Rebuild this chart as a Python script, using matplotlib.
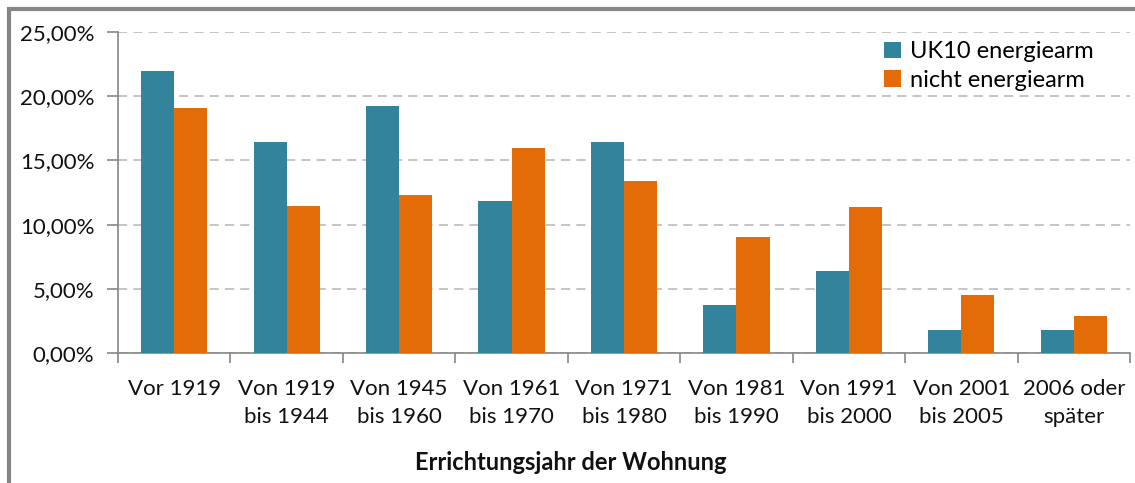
import matplotlib
matplotlib.use("Agg")
import matplotlib.pyplot as plt
from matplotlib.patches import Rectangle
import numpy as np

categories = ["Vor 1919", "Von 1919\nbis 1944", "Von 1945\nbis 1960", "Von 1961\nbis 1970",
              "Von 1971\nbis 1980", "Von 1981\nbis 1990", "Von 1991\nbis 2000",
              "Von 2001\nbis 2005", "2006 oder\nspäter"]
uk10 = [22.0, 16.45, 19.25, 11.85, 16.45, 3.75, 6.4, 1.8, 1.8]
nicht = [19.1, 11.45, 12.3, 15.95, 13.4, 9.0, 11.4, 4.55, 2.9]
series_names = ["UK10 energiearm", "nicht energiearm"]
yticks = [0, 5, 10, 15, 20, 25]
ytick_labels = ["0,00%", "5,00%", "10,00%", "15,00%", "20,00%", "25,00%"]
xlabel = "Errichtungsjahr der Wohnung"

plt.rcParams['font.family'] = ['Lato', 'DejaVu Sans']

W, H = 1135, 483
fig = plt.figure(figsize=(W/100, H/100), dpi=100)
ax = fig.add_axes([118/W, 1-353/H, (1130-118)/W, (353-32)/H])

teal = "#31849B"
orange = "#E36C09"
x = np.arange(len(categories))
bw = 0.294
ax.bar(x - bw/2, uk10, width=bw, color=teal, label=series_names[0], zorder=3)
ax.bar(x + bw/2, nicht, width=bw, color=orange, label=series_names[1], zorder=3)

ax.set_xlim(-0.5, len(categories) - 0.5)
ax.set_ylim(0, 25)
ax.set_yticks(yticks)
ax.set_yticklabels(ytick_labels, fontsize=16, color="#111111")
ax.yaxis.grid(True, linestyle=(0, (6, 4)), color="#b5b5b5", linewidth=1.1, zorder=0)
ax.set_axisbelow(True)

ax.set_xticks(np.arange(-0.5, len(categories), 1.0))
ax.set_xticklabels([])
ax.set_xticks(x, minor=True)
ax.set_xticklabels(categories, minor=True, fontsize=16, color="#111111",
                   linespacing=1.45)
ax.tick_params(axis='x', which='minor', length=0, pad=19)
ax.tick_params(axis='x', which='major', length=7, color="#868686", width=1.2)
ax.tick_params(axis='y', length=8, color="#868686", width=1.2, pad=9)

for s in ["top", "right"]:
    ax.spines[s].set_visible(False)
for s in ["left", "bottom"]:
    ax.spines[s].set_color("#868686")
    ax.spines[s].set_linewidth(1.2)

fig.text(571/W, 1-462/H, xlabel, ha="center", va="center", fontsize=17, fontweight="bold",
         color="#111111")

leg = ax.legend(loc="upper left", bbox_to_anchor=((875-118)/(1130-118), 1-(32-32)/(353-32)),
                frameon=False, fontsize=17, handlelength=0.7, handleheight=0.7,
                handletextpad=0.4, labelspacing=0.3, borderaxespad=0)

fig.patches.append(Rectangle((9/W, -0.1), 1.2, 1 - 9/H + 0.1, transform=fig.transFigure,
                             fill=False, edgecolor="#868686", linewidth=3))

fig.savefig("out.png", dpi=100)
